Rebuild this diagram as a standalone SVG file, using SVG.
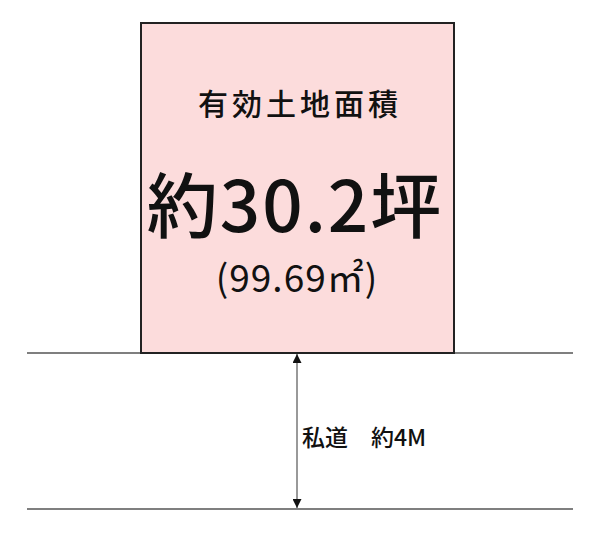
<svg xmlns="http://www.w3.org/2000/svg" width="600" height="534" viewBox="0 0 600 534">
<defs>
<style>
.t{font-family:"Noto Sans CJK JP","Noto Sans",sans-serif;fill:#111;}
.road{stroke:#555;stroke-width:1.3;fill:none;}
</style>
<marker id="ah" viewBox="0 0 10 10" refX="10" refY="5" markerWidth="9" markerHeight="9" markerUnits="userSpaceOnUse" orient="auto-start-reverse">
<path d="M0,0 L10,5 L0,10 Z" fill="#111"/>
</marker>
</defs>
<rect width="600" height="534" fill="#fff"/>
<g id="roads">
<line class="road" x1="27" y1="353" x2="573" y2="353"/>
<line class="road" x1="27" y1="509" x2="573" y2="509"/>
</g>
<g id="lot">
<rect x="141" y="23" width="313" height="330" fill="#fcdcdc" stroke="#222" stroke-width="2"/>
<text class="t" x="300" y="115" font-size="30" letter-spacing="4" text-anchor="middle" font-weight="500">有効土地面積</text>
<text class="t" x="295" y="232" font-size="71" letter-spacing="2" text-anchor="middle" font-weight="500">約30.2坪</text>
<text class="t" x="297" y="292" font-size="37" letter-spacing="1" text-anchor="middle">(99.69㎡)</text>
</g>
<g id="connectors">
<line x1="297" y1="354" x2="297" y2="508" stroke="#555" stroke-width="1.2" marker-start="url(#ah)" marker-end="url(#ah)"/>
</g>
<g id="road-label">
<text class="t" x="302" y="446" font-size="23" font-weight="500">私道　約4M</text>
</g>
</svg>
